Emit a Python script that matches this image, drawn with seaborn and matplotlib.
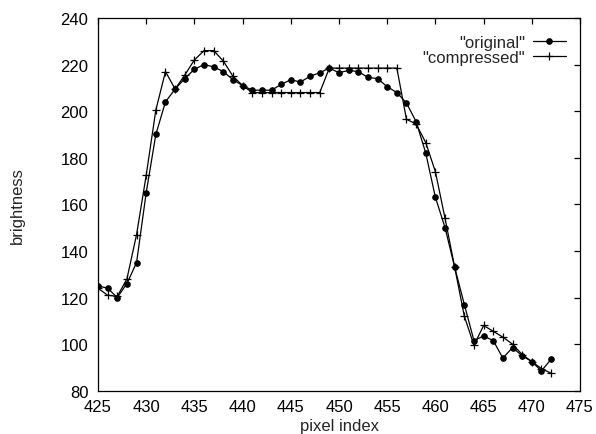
import matplotlib
matplotlib.use("Agg")
import matplotlib.pyplot as plt
import seaborn as sns
import pandas as pd
import numpy as np

pixel_index = list(range(425, 473))
original = [125, 124, 120, 126, 135, 165, 190, 204, 209.5, 214,
            218, 220, 219, 217, 213.5, 211, 209, 209, 209, 211.5,
            213.5, 212.5, 215, 216.5, 218.5, 216.5, 217.5, 217, 214.5, 214,
            210.5, 208, 203.5, 195.5, 182, 163, 150, 133, 117, 101.5,
            103.5, 101.5, 94, 98.5, 95, 92.5, 88.5, 93.5]
compressed = [124, 121, 120.5, 128, 147, 172.5, 200.5, 217, 209.5, 215.5,
              222, 226, 226, 221.5, 215, 211, 208, 208, 208, 208,
              208, 208, 208, 208, 218.5, 218.5, 218.5, 218.5, 218.5, 218.5,
              218.5, 218.5, 196.5, 194.5, 186.5, 174, 154, 133, 112, 99.5,
              108, 105.5, 103, 100, 95.5, 92.5, 89.5, 87.5]
series_names = ['"original"', '"compressed"']
x_ticks = list(range(425, 480, 5))
y_ticks = list(range(80, 260, 20))

sns.set_style("white")
plt.rcParams['font.family'] = ['Liberation Sans', 'DejaVu Sans']

df_o = pd.DataFrame({"pixel index": pixel_index, "brightness": original})
df_c = pd.DataFrame({"pixel index": pixel_index, "brightness": compressed})

fig = plt.figure(figsize=(5.96, 4.35), dpi=100)
ax = fig.add_axes([98 / 596, 1 - 391.7 / 435, (580 - 98) / 596, (391.7 - 19) / 435])

sns.lineplot(data=df_o, x="pixel index", y="brightness", ax=ax, color="black",
             marker="o", markersize=4, markeredgecolor="black", linewidth=0.9,
             label=series_names[0])
sns.lineplot(data=df_c, x="pixel index", y="brightness", ax=ax, color="black",
             marker="+", markersize=6, markeredgewidth=0.9, markeredgecolor="black",
             linewidth=0.9, label=series_names[1])

ax.set_xlim(425, 475)
ax.set_ylim(80, 240)
ax.set_xticks(x_ticks)
ax.set_yticks(y_ticks)
ax.tick_params(direction="in", length=4, width=0.9, top=True, right=True,
               labelsize=12, pad=6, colors="black")
ax.tick_params(axis="y", pad=7)
for s in ax.spines.values():
    s.set_linewidth(0.9)
    s.set_color("black")

ax.set_xlabel("pixel index", fontsize=12)
ax.set_ylabel("brightness", fontsize=12)
ax.xaxis.set_label_coords(0.5, -0.072)
ax.yaxis.set_label_coords(-0.151, 0.5)

leg = ax.legend(loc="upper right", bbox_to_anchor=((566 - 98) / 482, (391.7 - 36) / 372.7),
                frameon=False, markerfirst=False, fontsize=12, handlelength=2.0,
                handletextpad=0.45, labelspacing=0.0, borderaxespad=0, borderpad=0)
for t in leg.get_texts():
    t.set_ha("right")

fig.savefig("out.png", dpi=100)
